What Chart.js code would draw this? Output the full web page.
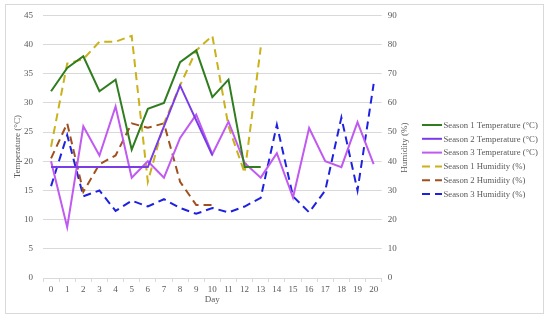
<!DOCTYPE html>
<html>
<head>
<meta charset="utf-8">
<script src="https://cdn.jsdelivr.net/npm/chart.js@4"></script>
<style>
  body { margin: 0; background: #fff; }
  #wrap { position: relative; width: 550px; height: 320px; }
  #frame { position: absolute; left: 5px; top: 4px; width: 537px; height: 308px; border: 1px solid #d9d9d9; pointer-events: none; }
</style>
</head>
<body>
<div id="wrap">
  <canvas id="seasonChart" width="550" height="320"></canvas>
  <div id="frame"></div>
</div>
<script>
const days = ['0', '1', '2', '3', '4', '5', '6', '7', '8', '9', '10', '11', '12', '13', '14', '15', '16', '17', '18', '19', '20'];

const season1Temp = [32, 36, 38, 32, 34, 22, 29, 30, 37, 39, 31, 34, 19, 19];
const season2Temp = [19, 19, 19, 19, 19, 19, 19, 26, 33, 27, 21];
const season3Temp = [20, 8.7, 26, 21, 29.4, 17.2, 20, 17.2, 24, 28, 21.2, 26.8, 19.7, 17.2, 21.4, 13.8, 25.7, 20, 19, 26.7, 19.5];

const season1Hum = [45, 73.5, 75, 81, 81, 83, 33, 53, 66, 78, 83, 52, 36, 79];
const season2Hum = [41, 53, 29.5, 39, 42, 53, 51.5, 53, 33, 25, 25];
const season3Hum = [31.5, 49, 28, 30, 23, 26.5, 24.5, 27, 24, 22, 24, 22.5, 24.5, 27.5, 52.5, 28, 22.5, 30, 55, 30, 66.5];

const humidityTitle = 'Humidity (%)';

const textColor = '#595959';
const gridColor = '#d9d9d9';
const serif = 'Liberation Serif';
const font9 = { family: serif, size: 9 };

const line = (label, data, color, axis, dashed) => ({
  label,
  data,
  yAxisID: axis,
  borderColor: color,
  backgroundColor: color,
  borderWidth: 2,
  borderDash: dashed ? [8, 5] : [],
  pointRadius: 0,
  pointHoverRadius: 0,
  tension: 0,
  fill: false,
});

// excel-style legend on the right + upward-reading humidity title
const sideLegend = {
  id: 'sideLegend',
  afterDraw(chart) {
    const { ctx, chartArea } = chart;
    ctx.save();
    ctx.fillStyle = textColor;

    // right axis title, rotated like the left one
    ctx.save();
    ctx.font = `9px "${serif}"`;
    ctx.textAlign = 'center';
    ctx.textBaseline = 'middle';
    ctx.translate(405, (chartArea.top + chartArea.bottom) / 2 + 1);
    ctx.rotate(-Math.PI / 2);
    ctx.fillText(humidityTitle, 0, 0);
    ctx.restore();

    ctx.font = `8.7px "${serif}"`;
    ctx.textBaseline = 'middle';
    chart.data.datasets.forEach((ds, i) => {
      const y = 125 + i * 13.8;
      ctx.strokeStyle = ds.borderColor;
      ctx.lineWidth = ds.borderWidth;
      ctx.setLineDash(ds.borderDash);
      ctx.beginPath();
      ctx.moveTo(422, y);
      ctx.lineTo(442, y);
      ctx.stroke();
      ctx.setLineDash([]);
      ctx.fillText(ds.label, 443.5, y + 0.5);
    });
    ctx.restore();
  },
};

const canvas = document.getElementById('seasonChart');

new Chart(canvas, {
  type: 'line',
  data: {
    labels: days,
    datasets: [
      line('Season 1 Temperature (°C)', season1Temp, '#2f7d1e', 'y', false),
      line('Season 2 Temperature (°C)', season2Temp, '#7a3ce6', 'y', false),
      line('Season 3 Temperature (°C)', season3Temp, '#c05af0', 'y', false),
      line('Season 1 Humidity (%)', season1Hum, '#c9b21a', 'y1', true),
      line('Season 2 Humidity (%)', season2Hum, '#a0501e', 'y1', true),
      line('Season 3 Humidity (%)', season3Hum, '#1e22e0', 'y1', true),
    ],
  },
  options: {
    responsive: false,
    animation: false,
    layout: { padding: { left: 7, right: 131, top: 11, bottom: 10 } },
    font: font9,
    scales: {
      x: {
        offset: true,
        afterFit: (scale) => { scale.height = 32; },
        grid: { display: true, offset: true, drawOnChartArea: false, drawTicks: true, tickLength: 4, color: gridColor },
        border: { color: gridColor },
        ticks: { color: textColor, padding: 2, maxRotation: 0, font: font9 },
        title: { display: true, text: 'Day', color: textColor, padding: { top: 0, bottom: 4.6 }, font: font9 },
      },
      y: {
        position: 'left',
        min: 0,
        max: 45,
        afterFit: (scale) => { scale.width = 36; },
        ticks: { stepSize: 5, color: textColor, padding: 10, font: font9 },
        grid: { color: gridColor, drawTicks: false },
        border: { display: false },
        title: { display: true, text: 'Temperature (°C)', color: textColor, padding: { top: 5.6, bottom: 0 }, font: font9 },
      },
      y1: {
        position: 'right',
        min: 0,
        max: 90,
        afterFit: (scale) => { scale.width = 37.3; },
        ticks: { stepSize: 10, color: textColor, padding: 6, font: font9 },
        grid: { drawOnChartArea: false, drawTicks: false },
        border: { display: false },
        title: { display: false },
      },
    },
    plugins: {
      legend: { display: false },
      tooltip: { enabled: false },
    },
  },
  plugins: [sideLegend],
});
</script>
</body>
</html>
